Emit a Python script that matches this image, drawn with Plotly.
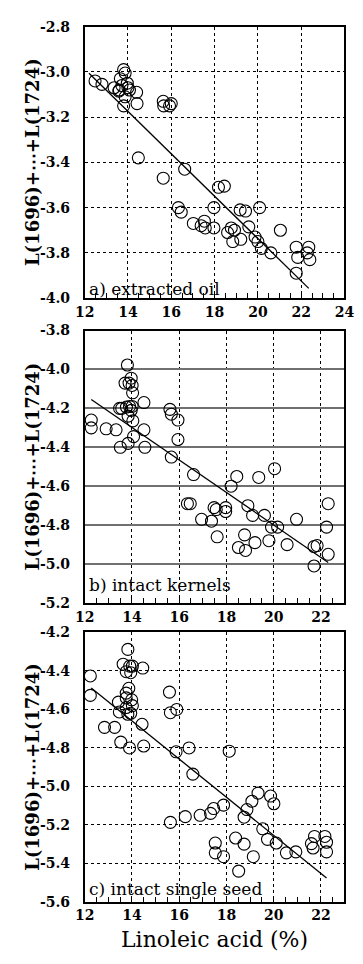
import plotly.graph_objects as go
from plotly.subplots import make_subplots

# ---------------- data ----------------
# a) extracted oil
a_x = [12.48, 12.8, 13.36, 13.58, 13.72, 13.8, 13.87, 13.65, 13.97, 14.0, 13.87, 13.8, 13.6, 14.07,
       14.4, 14.42, 14.48, 15.63, 15.65, 15.92, 16.0, 15.63, 16.62, 16.33, 16.46, 17.02, 17.38, 17.53,
       17.57, 17.97, 17.97, 18.18, 18.45, 18.6, 18.77, 18.84, 18.92, 19.18, 19.21, 19.43, 19.58, 19.87,
       20.0, 20.16, 20.08, 20.6, 21.04, 21.77, 21.84, 21.77, 22.28, 22.35, 22.4]
a_y = [-3.04, -3.055, -3.07, -3.085, -3.06, -2.99, -3.005, -3.03, -3.05, -3.07, -3.11, -3.15, -3.08, -3.08,
       -3.09, -3.14, -3.38, -3.13, -3.15, -3.15, -3.14, -3.47, -3.43, -3.60, -3.62, -3.67, -3.68, -3.66,
       -3.69, -3.60, -3.69, -3.51, -3.505, -3.71, -3.69, -3.75, -3.70, -3.61, -3.74, -3.615, -3.685, -3.73,
       -3.75, -3.78, -3.60, -3.80, -3.70, -3.775, -3.82, -3.89, -3.80, -3.775, -3.83]
a_fit_x = [12.2, 22.35]
a_fit_y = [-3.006, -3.957]

# b) intact kernels
b_x = [12.28, 12.28, 12.91, 13.33, 13.48, 13.57, 13.51, 13.81, 13.71, 13.88, 13.97, 14.01, 14.03, 13.77,
       13.9, 13.97, 14.01, 13.84, 14.04, 14.07, 13.84, 14.51, 14.51, 14.55, 15.61, 15.67, 15.95, 15.95,
       15.67, 16.61, 16.35, 16.47, 16.95, 17.37, 17.48, 17.57, 17.61, 17.97, 17.97, 18.2, 18.44, 18.51,
       18.77, 18.81, 18.91, 19.11, 19.21, 19.37, 19.61, 19.8, 19.91, 20.04, 20.17, 20.57, 20.97, 21.71,
       21.84, 21.71, 22.24, 22.31, 22.31]
b_y = [-4.26, -4.30, -4.305, -4.31, -4.20, -4.20, -4.40, -3.977, -4.07, -4.07, -4.045, -4.082, -4.12, -4.193,
       -4.19, -4.21, -4.19, -4.24, -4.264, -4.345, -4.38, -4.17, -4.31, -4.40, -4.205, -4.23, -4.26, -4.36,
       -4.45, -4.54, -4.69, -4.69, -4.77, -4.78, -4.71, -4.72, -4.86, -4.71, -4.73, -4.60, -4.55, -4.915,
       -4.85, -4.93, -4.70, -4.75, -4.89, -4.555, -4.75, -4.88, -4.81, -4.51, -4.81, -4.90, -4.77, -4.91,
       -4.905, -5.01, -4.81, -4.69, -4.95]
b_fit_x = [12.28, 22.31]
b_fit_y = [-4.154, -4.992]

# c) intact single seed
c_x = [12.24, 12.24, 12.84, 13.27, 13.43, 13.47, 13.53, 13.83, 13.63, 13.76, 13.91, 14.02, 13.95, 13.87,
       13.76, 13.76, 13.99, 14.02, 13.76, 13.83, 13.95, 13.9, 14.46, 14.43, 14.5, 15.59, 15.63, 15.9,
       15.63, 15.87, 16.42, 16.58, 16.26, 16.89, 17.33, 17.46, 17.53, 17.53, 17.88, 17.88, 18.12, 18.39,
       18.52, 18.75, 18.75, 18.87, 19.08, 19.14, 19.34, 19.54, 19.74, 19.87, 20.01, 20.11, 20.54, 20.94,
       21.6, 21.67, 21.73, 22.17, 22.24, 22.24]
c_y = [-4.426, -4.527, -4.693, -4.693, -4.562, -4.613, -4.77, -4.288, -4.365, -4.404, -4.375, -4.375,
       -4.409, -4.49, -4.515, -4.54, -4.55, -4.58, -4.59, -4.625, -4.62, -4.80, -4.385, -4.677, -4.79,
       -4.51, -4.617, -4.60, -5.187, -4.82, -4.80, -4.936, -5.157, -5.15, -5.14, -5.115, -5.294, -5.345,
       -5.097, -5.365, -4.817, -5.268, -5.44, -5.30, -5.16, -5.12, -5.077, -5.365, -5.035, -5.22, -5.275,
       -5.05, -5.09, -5.294, -5.345, -5.34, -5.297, -5.32, -5.26, -5.26, -5.29, -5.34]
c_fit_x = [12.28, 22.24]
c_fit_y = [-4.489, -5.476]

a_yticks = [-2.8, -3.0, -3.2, -3.4, -3.6, -3.8, -4.0]
b_yticks = [-3.8, -4.0, -4.2, -4.4, -4.6, -4.8, -5.0, -5.2]
c_yticks = [-4.2, -4.4, -4.6, -4.8, -5.0, -5.2, -5.4, -5.6]
a_xticks = [12, 14, 16, 18, 20, 22, 24]
bc_xticks = [12, 14, 16, 18, 20, 22]

panel_labels = ["a) extracted oil", "b) intact kernels", "c) intact single seed"]
y_title = "L(1696)+⋯+L(1724)"
x_title = "Linoleic acid (%)"

# ---------------- layout geometry ----------------
W, H = 363, 964
X0, X1 = 79, 354
panels = [(19, 295), (328, 605), (635, 909)]
label_pos = [286, 587, 896]

SERIF = "DejaVu Serif"

fig = make_subplots(rows=3, cols=1)

datasets = [
    (a_x, a_y, a_fit_x, a_fit_y, a_yticks, a_xticks, [12, 24]),
    (b_x, b_y, b_fit_x, b_fit_y, b_yticks, bc_xticks, [12, 23]),
    (c_x, c_y, c_fit_x, c_fit_y, c_yticks, bc_xticks, [12, 23]),
]

for i, (xs, ys, fx, fy, yt, xt, xr) in enumerate(datasets):
    r = i + 1
    fig.add_trace(go.Scatter(x=xs, y=ys, mode="markers",
                             marker=dict(symbol="circle-open", size=12, color="black",
                                         line=dict(width=1.1, color="black")),
                             showlegend=False), row=r, col=1)
    fig.add_trace(go.Scatter(x=fx, y=fy, mode="lines",
                             line=dict(color="black", width=1.3),
                             showlegend=False), row=r, col=1)
    top, bot = panels[i]
    ygrid_dash = "solid" if i == 1 else "dot"
    ygrid_color = "#707070" if i == 1 else "black"
    ygrid_width = 2 if i == 1 else 1
    fig.update_xaxes(row=r, col=1,
                     domain=[X0 / W, X1 / W], range=xr,
                     tickvals=xt, ticktext=[str(v) for v in xt],
                     ticks="inside", ticklen=5, tickcolor="black", tickwidth=1,
                     minor=dict(dtick=0.5, ticks="inside", ticklen=5, tickcolor="black", showgrid=False),
                     showgrid=True, gridcolor="black", griddash="dot", gridwidth=1,
                     showline=True, mirror=True, linecolor="black", linewidth=1.5,
                     zeroline=False, ticklabeloverflow="allow",
                     tickfont=dict(family=SERIF, size=14, color="black", weight="bold"))
    fig.update_yaxes(row=r, col=1,
                     domain=[1 - bot / H, 1 - top / H], range=[yt[-1], yt[0]],
                     tickvals=yt, ticktext=["%.1f" % v for v in yt],
                     ticks="", ticklabelstandoff=10,
                     showgrid=True, gridcolor=ygrid_color, griddash=ygrid_dash, gridwidth=ygrid_width,
                     showline=True, mirror=True, linecolor="black", linewidth=1.5,
                     zeroline=False, ticklabeloverflow="allow",
                     tickfont=dict(family=SERIF, size=14, color="black", weight="bold"))
    fig.add_annotation(text=panel_labels[i], xref="paper", yref="paper",
                       x=81 / W, y=1 - label_pos[i] / H, xanchor="left", yanchor="middle",
                       showarrow=False, font=dict(family=SERIF, size=17, color="black"))
    fig.add_annotation(text=y_title, xref="paper", yref="paper",
                       x=24 / W, y=1 - (top + bot) / 2 / H, xanchor="center", yanchor="middle",
                       textangle=-90, showarrow=False,
                       font=dict(family=SERIF, size=18, color="black", weight="bold"))

fig.add_annotation(text=x_title, xref="paper", yref="paper",
                   x=(X0 + X1) / 2 / W, y=1 - 947 / H, xanchor="center", yanchor="middle",
                   showarrow=False, font=dict(family=SERIF, size=22, color="black"))

fig.update_layout(width=W, height=H, margin=dict(l=0, r=0, t=0, b=0),
                  plot_bgcolor="white", paper_bgcolor="white")

fig.write_html("out.html")
